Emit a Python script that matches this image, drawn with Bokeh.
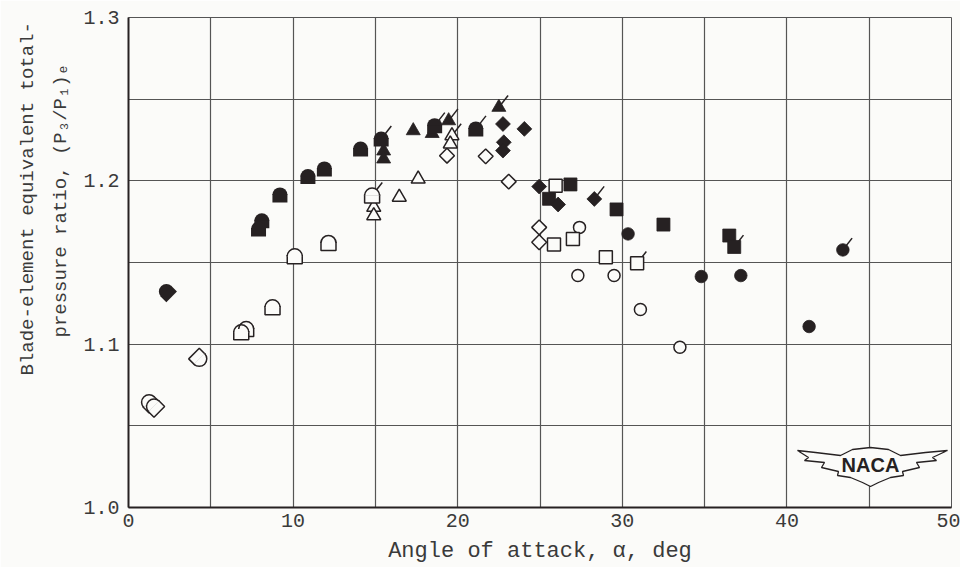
from math import pi, radians, sin, cos
from bokeh.plotting import figure
from bokeh.models import FixedTicker, Range1d, Title
from bokeh.embed import file_html
from bokeh.resources import INLINE
from bokeh.core.properties import value

# ---------------- data (angle of attack, deg ; pressure ratio) ----------------
open_circle_x = [27.4, 27.3, 29.5, 31.1, 33.5]
open_circle_y = [1.1715, 1.1420, 1.1420, 1.1212, 1.0981]
open_circle_flag = [0, 0, 0, 0, 0]

filled_circle_x = [30.35, 34.8, 37.2, 41.35, 43.4]
filled_circle_y = [1.1675, 1.1414, 1.1420, 1.1108, 1.1577]
filled_circle_flag = [0, 0, 0, 0, 1]

open_square_x = [25.95, 25.85, 27.0, 29.0, 30.9]
open_square_y = [1.1970, 1.1610, 1.1644, 1.1532, 1.1495]
open_square_flag = [0, 0, 0, 0, 1]

filled_square_x = [26.85, 25.55, 29.65, 32.5, 36.5, 36.8]
filled_square_y = [1.1978, 1.1890, 1.1825, 1.1732, 1.1665, 1.1595]
filled_square_flag = [0, 0, 0, 0, 0, 1]

open_diamond_x = [19.35, 21.7, 23.1, 24.95, 24.95]
open_diamond_y = [1.2154, 1.2150, 1.1995, 1.1715, 1.1624]
open_diamond_flag = [0, 0, 0, 0, 0]

filled_diamond_x = [22.75, 24.05, 22.8, 22.75, 24.95, 26.1, 28.3]
filled_diamond_y = [1.2348, 1.2318, 1.2236, 1.2185, 1.1965, 1.1855, 1.1889]
filled_diamond_flag = [0, 0, 0, 0, 0, 0, 1]

open_triangle_x = [19.65, 19.55, 17.6, 16.45, 14.9, 14.9]
open_triangle_y = [1.2277, 1.2226, 1.2011, 1.1900, 1.1838, 1.1787]
open_triangle_flag = [1, 0, 0, 0, 0, 0]

filled_triangle_x = [15.5, 15.5, 17.3, 18.45, 19.45, 22.5]
filled_triangle_y = [1.2183, 1.2134, 1.2307, 1.2290, 1.2368, 1.2450]
filled_triangle_flag = [0, 0, 0, 0, 1, 1]

open_tomb_x = [14.8, 12.15, 10.1, 8.75, 7.15, 6.85, 1.25, 1.55, 4.3]
open_tomb_y = [1.1910, 1.1620, 1.1538, 1.1226, 1.1093, 1.1073, 1.0644, 1.0618, 1.0910]
open_tomb_tilt = [0, 0, 0, 0, 0, 0, 45, 45, 225]
open_tomb_flag = [1, 0, 0, 0, 0, 0, 0, 0, 0]

filled_tomb_x = [14.1, 15.35, 18.6, 21.1, 11.9, 10.9, 9.2, 8.1, 7.9, 2.3]
filled_tomb_y = [1.2195, 1.2256, 1.2338, 1.2318, 1.2073, 1.2026, 1.1914, 1.1756, 1.1705, 1.1322]
filled_tomb_tilt = [0, 0, 0, 0, 0, 0, 0, 0, 0, 45]
filled_tomb_flag = [0, 1, 1, 1, 0, 0, 0, 0, 0, 0]

x_ticks = [0, 10, 20, 30, 40, 50]
y_ticks = [1.0, 1.1, 1.2, 1.3]
y_tick_labels = ["1.0", "1.1", "1.2", "1.3"]
x_grid = [0, 5, 10, 15, 20, 25, 30, 35, 40, 45, 50]
y_grid = [1.0, 1.05, 1.1, 1.15, 1.2, 1.25, 1.3]

y_title_1 = "Blade-element equivalent total-"
y_title_2 = "pressure ratio, (P\u2083/P\u2081)\u2091"
x_title = "Angle of attack, \u03b1, deg"

# ---------------- styling ----------------
INK = "#262122"
PAPER = "#fbfbf9"
TXT = "#3a3a3a"
GRID = "#555555"
LW = 1.5
FONT = "Liberation Mono"

ML, MR, MT, MB = 128, 9, 17, 60
FW, FH = 823, 490
W, H = ML + FW + MR, MT + FH + MB
X0, X1, Y0, Y1 = 0, 50, 1.0, 1.3
sx = FW / (X1 - X0)
sy = FH / (Y1 - Y0)

p = figure(width=W, height=H, x_range=Range1d(X0, X1), y_range=Range1d(Y0, Y1),
           output_backend="svg", toolbar_location=None,
           min_border_left=ML, min_border_right=MR, min_border_top=MT, min_border_bottom=MB)
p.background_fill_color = PAPER
p.border_fill_color = PAPER
p.outline_line_color = GRID
p.outline_line_width = 1

p.xgrid.ticker = FixedTicker(ticks=x_grid)
p.ygrid.ticker = FixedTicker(ticks=y_grid)
for g in (p.xgrid, p.ygrid):
    g.grid_line_color = GRID
    g.grid_line_width = 1.2

p.xaxis.ticker = FixedTicker(ticks=x_ticks)
p.yaxis.ticker = FixedTicker(ticks=y_ticks)
p.yaxis.major_label_overrides = {t: s for t, s in zip(y_ticks, y_tick_labels)}
for ax in (p.xaxis, p.yaxis):
    ax.axis_line_color = INK
    ax.axis_line_width = 2
    ax.major_tick_out = 0
    ax.major_tick_in = 0
    ax.minor_tick_out = 0
    ax.minor_tick_in = 0
    ax.major_label_text_font = FONT
    ax.major_label_text_font_size = "20px"
    ax.major_label_text_color = TXT
p.xaxis.major_label_standoff = 6
p.yaxis.major_label_standoff = 9
p.xaxis.axis_label = x_title
p.xaxis.axis_label_text_font = FONT
p.xaxis.axis_label_text_font_size = "22px"
p.xaxis.axis_label_text_font_style = "normal"
p.xaxis.axis_label_text_color = TXT
p.xaxis.axis_label_standoff = 9

# two-line y title (nearest line first), anchored at the bottom and lifted
for txt, so, off in ((y_title_2, 18, 170), (y_title_1, 0, 132)):
    p.add_layout(Title(text=txt, align="left", offset=off, standoff=so,
                       text_font=FONT, text_font_size="19px", text_font_style="normal",
                       text_color=TXT), "left")

# ---------------- NACA emblem ----------------
cx = (870 - 128) / sx
cy = 1.0 + (507 - 465) / sy
wing = [(-73, 15), (-55, 13), (-30, 10), (-18, 16), (0, 18), (18, 16), (30, 10), (55, 13),
        (77, 15), (62, 8), (66, 5), (46, 3), (49, -2), (32, -6), (33, -10), (20, -12),
        (8, -17), (0, -21), (-8, -17), (-20, -12), (-33, -10), (-32, -6), (-49, -2),
        (-46, 3), (-66, 5), (-62, 8)]
p.patch([cx + a / sx for a, b in wing], [cy + b / sy for a, b in wing],
        fill_color=PAPER, line_color=INK, line_width=1.3)
p.text([cx], [cy + 1 / sy], text=["NACA"], text_font=value("Liberation Sans"),
       text_font_style="bold", text_font_size="20px", text_align="center",
       text_baseline="middle", text_color=INK)


# ---------------- helpers ----------------
def flags(xs, ys, fl, r):
    fx = [x for x, f in zip(xs, fl) if f]
    fy = [y for y, f in zip(ys, fl) if f]
    if fx:
        p.ray(fx, fy, length=r + 9, length_units="screen", angle=radians(52),
              line_color=INK, line_width=LW)


def markers(xs, ys, marker, size, filled, angle=0.0):
    p.scatter(xs, ys, marker=marker, size=size, angle=angle,
              fill_color=INK if filled else PAPER, line_color=INK,
              line_width=0.8 if filled else LW)


def tomb(xs, ys, tilts, filled):
    r = 7.5
    th = [radians(t) for t in tilts]
    off = (r - 1) / 2
    rx = [x + off * sin(t) / sx for x, t in zip(xs, th)]
    ry = [y - off * cos(t) / sy for y, t in zip(ys, th)]
    fill = INK if filled else PAPER
    p.rect(rx, ry, width=2 * r, height=r + 1, width_units="screen", height_units="screen",
           angle=th, fill_color=fill, line_color=None if filled else INK, line_width=LW)
    ends = [t + pi for t in th]
    p.wedge(xs, ys, radius=r, radius_units="screen", start_angle=th, end_angle=ends,
            fill_color=fill, line_color=None)
    if not filled:
        p.arc(xs, ys, radius=r, radius_units="screen", start_angle=th, end_angle=ends,
              line_color=INK, line_width=LW)


# flags first so the symbols cover their roots
flags(filled_circle_x, filled_circle_y, filled_circle_flag, 6)
flags(open_square_x, open_square_y, open_square_flag, 6)
flags(filled_square_x, filled_square_y, filled_square_flag, 6)
flags(filled_diamond_x, filled_diamond_y, filled_diamond_flag, 7)
flags(open_triangle_x, open_triangle_y, open_triangle_flag, 6)
flags(filled_triangle_x, filled_triangle_y, filled_triangle_flag, 6)
flags(open_tomb_x, open_tomb_y, open_tomb_flag, 7.5)
flags(filled_tomb_x, filled_tomb_y, filled_tomb_flag, 7.5)

markers(open_circle_x, open_circle_y, "circle", 12, False)
markers(open_square_x, open_square_y, "square", 13, False)
markers(open_diamond_x, open_diamond_y, "square", 10.5, False, pi / 4)
markers(open_triangle_x, open_triangle_y, "triangle", 14, False)
tomb(open_tomb_x, open_tomb_y, open_tomb_tilt, False)

markers(filled_circle_x, filled_circle_y, "circle", 12.5, True)
markers(filled_square_x, filled_square_y, "square", 13, True)
markers(filled_diamond_x, filled_diamond_y, "square", 10.5, True, pi / 4)
markers(filled_triangle_x, filled_triangle_y, "triangle", 14, True)
tomb(filled_tomb_x, filled_tomb_y, filled_tomb_tilt, True)

open("out.html", "w").write(file_html(p, INLINE))
